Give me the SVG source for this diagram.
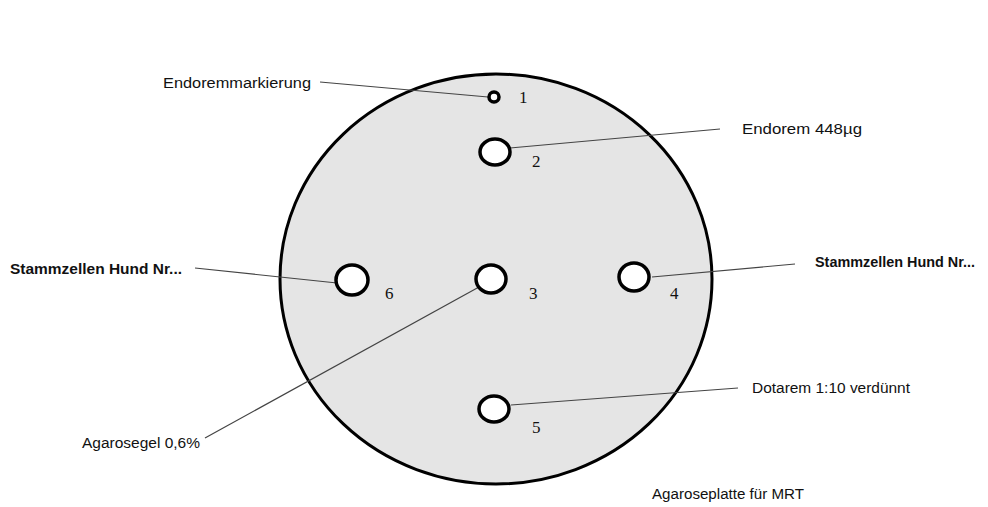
<svg xmlns="http://www.w3.org/2000/svg" width="988" height="507" viewBox="0 0 988 507">
<style>
.lbl{font-family:"Liberation Sans",Arial,sans-serif;font-size:14px;fill:#111}
.b{font-weight:bold}
.num{font-family:"Liberation Serif","Times New Roman",serif;font-size:17px;fill:#111}
.lead{stroke:#444;stroke-width:1.2;fill:none}
.well{fill:#fff;stroke:#000;stroke-width:3.5}
</style>
<rect width="988" height="507" fill="#fff"/>
<g id="plate">
<ellipse cx="496" cy="279" rx="216" ry="205" fill="#e5e5e5" stroke="#000" stroke-width="3"/>
</g>
<g id="connectors">
<line class="lead" x1="320" y1="82" x2="488" y2="97"/>
<line class="lead" x1="510" y1="148" x2="720" y2="129"/>
<line class="lead" x1="195" y1="268" x2="337" y2="283"/>
<line class="lead" x1="652" y1="277" x2="795" y2="264"/>
<line class="lead" x1="205" y1="438" x2="479" y2="287"/>
<line class="lead" x1="511" y1="405" x2="738" y2="388"/>
</g>
<g id="well1"><ellipse class="well" cx="494" cy="97" rx="5" ry="5" stroke-width="2"/><text class="num" x="519" y="103">1</text></g>
<g id="well2"><ellipse class="well" cx="495" cy="152" rx="15" ry="13"/><text class="num" x="532" y="167">2</text></g>
<g id="well3"><ellipse class="well" cx="491" cy="279" rx="15" ry="14"/><text class="num" x="529" y="299">3</text></g>
<g id="well4"><ellipse class="well" cx="634" cy="277" rx="15" ry="14"/><text class="num" x="670" y="299">4</text></g>
<g id="well5"><ellipse class="well" cx="494" cy="409" rx="15" ry="13"/><text class="num" x="532" y="433">5</text></g>
<g id="well6"><ellipse class="well" cx="352" cy="280" rx="16" ry="15"/><text class="num" x="385" y="299">6</text></g>
<g id="labels">
<text class="lbl" x="163" y="88" textLength="148" lengthAdjust="spacingAndGlyphs">Endoremmarkierung</text>
<text class="lbl" x="742" y="134" textLength="120" lengthAdjust="spacingAndGlyphs">Endorem 448µg</text>
<text class="lbl b" x="10" y="274" textLength="172" lengthAdjust="spacingAndGlyphs">Stammzellen Hund Nr...</text>
<text class="lbl b" x="815" y="267" textLength="160" lengthAdjust="spacingAndGlyphs">Stammzellen Hund Nr...</text>
<text class="lbl" x="82" y="448" textLength="118" lengthAdjust="spacingAndGlyphs">Agarosegel 0,6%</text>
<text class="lbl" x="752" y="393" textLength="158" lengthAdjust="spacingAndGlyphs">Dotarem 1:10 verdünnt</text>
<text class="lbl" x="652" y="499" textLength="152" lengthAdjust="spacingAndGlyphs">Agaroseplatte für MRT</text>
</g>
</svg>
